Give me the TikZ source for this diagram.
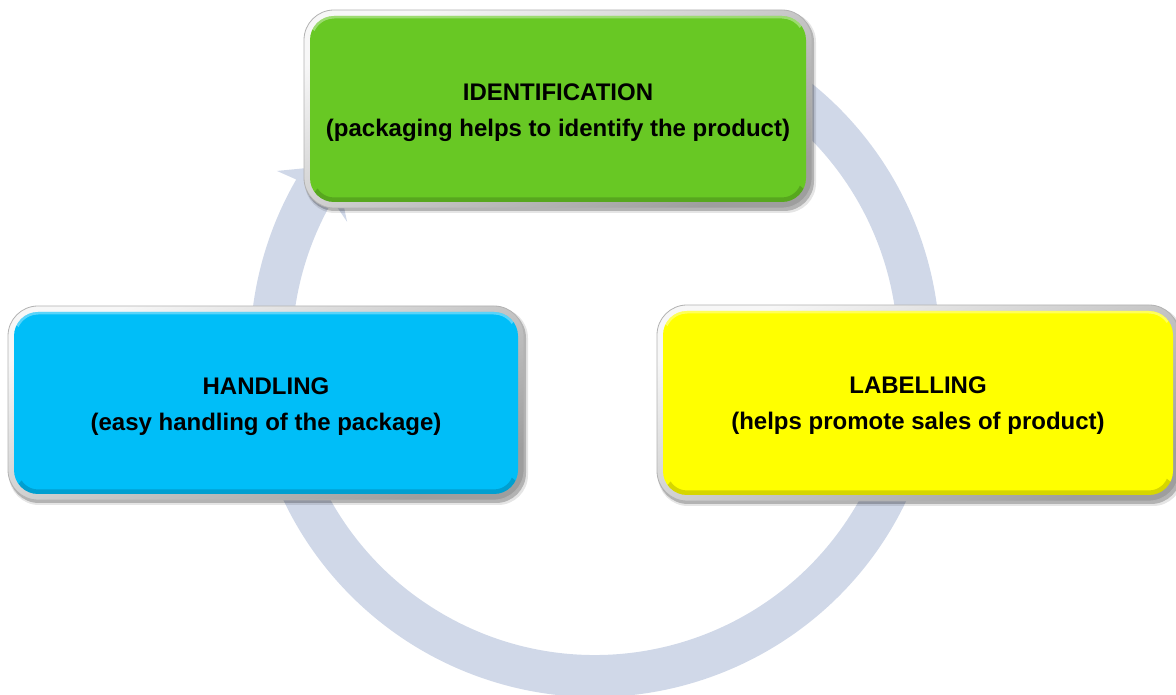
\documentclass[tikz,border=0pt]{standalone}
\usepackage{fontspec}
\setmainfont{Liberation Sans}
\usetikzlibrary{calc}

\pgfdeclarelayer{ringlayer}
\pgfdeclarelayer{framelayer}
\pgfsetlayers{ringlayer,framelayer,main}

\definecolor{ringcol}{RGB}{208,216,232}
\definecolor{tilegreen}{RGB}{104,200,36}
\definecolor{tileblue}{RGB}{0,190,248}
\definecolor{tileyellow}{RGB}{255,255,0}

% two centred lines, lowered a little without changing the box size
\newcommand{\tiletext}[3]{\raisebox{#1}[\height][\depth]{\begin{tabular}{@{}c@{}}#2\\#3\end{tabular}}}

\tikzset{
  tile/.style={rectangle, rounded corners=24pt, outer sep=0pt, inner sep=0pt,
    align=center, text=black,
    font=\fontsize{24}{36}\selectfont\bfseries,
    path picture={
      % darker rim along the bottom edge of the tile
      \begin{scope}
        \clip ([yshift=20pt]path picture bounding box.south west) rectangle
              ([shift={(5pt,-5pt)}]path picture bounding box.south east);
        \draw[rounded corners=24pt, line width=9pt, black, opacity=.16]
          (path picture bounding box.south west) rectangle
          (path picture bounding box.north east);
      \end{scope}
      % light rim along the top edge
      \begin{scope}
        \clip ([shift={(-5pt,5pt)}]path picture bounding box.north west) rectangle
              ([yshift=-20pt]path picture bounding box.north east);
        \draw[rounded corners=24pt, line width=5pt, white, opacity=.35]
          (path picture bounding box.south west) rectangle
          (path picture bounding box.north east);
      \end{scope}
    }},
  tileframe/.style={rounded corners=30pt, top color=white!97!black,
    bottom color=black!38, shading angle=25, draw=black!30, line width=.8pt},
  tileshadow/.style={rounded corners=30pt, fill=black}
}

\begin{document}
\begin{tikzpicture}[x=1pt, y=1pt]
\useasboundingbox (0,0) rectangle (1176,695);
\clip (0,0) rectangle (1176,695);

% the three tiles
\node[tile, fill=tilegreen, minimum width=496pt, minimum height=186pt] (g) at (558,586)
  {\tiletext{-2pt}{IDENTIFICATION}{(packaging helps to identify the product)}};
\node[tile, fill=tileblue, minimum width=504pt, minimum height=182pt] (b) at (266,292)
  {\tiletext{-2pt}{HANDLING}{(easy handling of the package)}};
\node[tile, fill=tileyellow, minimum width=510pt, minimum height=184pt] (y) at (918,292)
  {\tiletext{-1pt}{LABELLING}{(helps promote sales of product)}};

% bevelled frames and soft shadows behind the tiles
\begin{pgfonlayer}{framelayer}
  \foreach \t in {g,b,y} {
    \fill[tileshadow, opacity=.10]
      ([shift={(-5pt,4pt)}]\t.north west) rectangle ([shift={(10pt,-11pt)}]\t.south east);
    \fill[tileshadow, opacity=.22]
      ([shift={(-5pt,4pt)}]\t.north west) rectangle ([shift={(8pt,-9pt)}]\t.south east);
    \shade[tileframe]
      ([shift={(-6pt,6pt)}]\t.north west) rectangle ([shift={(6pt,-6pt)}]\t.south east);
  }
\end{pgfonlayer}

% circular arrow running clockwise behind the tiles
\begin{pgfonlayer}{ringlayer}
  \coordinate (c) at (595,343);
  \fill[ringcol]
    ($(c)+(70:345pt)$) arc[start angle=70, end angle=-210, radius=345pt]
    -- ($(c)+(150.35:366pt)$)
    -- ($(c)+(144.3:320pt)$)
    -- ($(c)+(152.3:280pt)$)
    -- ($(c)+(150:303pt)$)
    arc[start angle=-210, end angle=70, radius=303pt] -- cycle;
\end{pgfonlayer}
\end{tikzpicture}
\end{document}
